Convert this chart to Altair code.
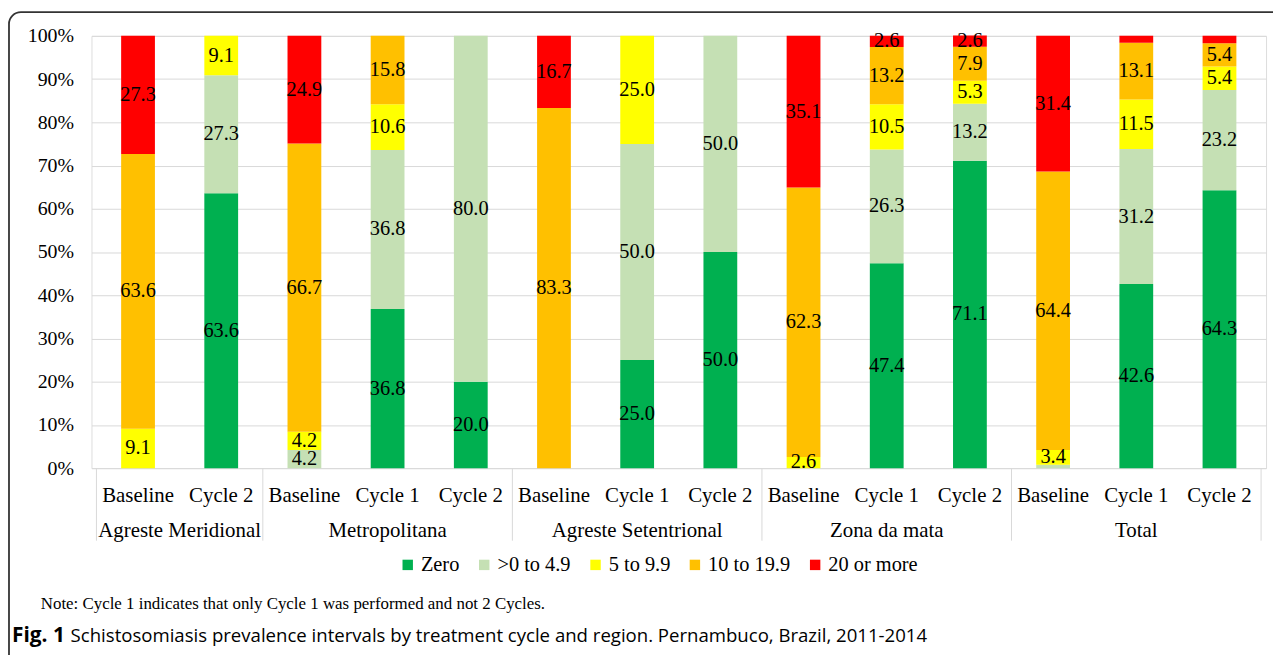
import altair as alt
import pandas as pd

# ---------------- data ----------------
groups = ["Agreste Meridional", "Metropolitana", "Agreste Setentrional", "Zona da mata", "Total"]
bar_group = ["Agreste Meridional", "Agreste Meridional",
             "Metropolitana", "Metropolitana", "Metropolitana",
             "Agreste Setentrional", "Agreste Setentrional", "Agreste Setentrional",
             "Zona da mata", "Zona da mata", "Zona da mata",
             "Total", "Total", "Total"]
bar_cycle = ["Baseline", "Cycle 2",
             "Baseline", "Cycle 1", "Cycle 2",
             "Baseline", "Cycle 1", "Cycle 2",
             "Baseline", "Cycle 1", "Cycle 2",
             "Baseline", "Cycle 1", "Cycle 2"]

series = ["Zero", ">0 to 4.9", "5 to 9.9", "10 to 19.9", "20 or more"]
colors = ["#00B050", "#C5E0B4", "#FFFF00", "#FFC000", "#FF0000"]

zero = [0, 63.6, 0, 36.8, 20.0, 0, 25.0, 50.0, 0, 47.4, 71.1, 0, 42.6, 64.3]
low = [0, 27.3, 4.2, 36.8, 80.0, 0, 50.0, 50.0, 0, 26.3, 13.2, 0.8, 31.2, 23.2]
mid = [9.1, 9.1, 4.2, 10.6, 0, 0, 25.0, 0, 2.6, 10.5, 5.3, 3.4, 11.5, 5.4]
high = [63.6, 0, 66.7, 15.8, 0, 83.3, 0, 0, 62.3, 13.2, 7.9, 64.4, 13.1, 5.4]
top = [27.3, 0, 24.9, 0, 0, 16.7, 0, 0, 35.1, 2.6, 2.6, 31.4, 1.6, 1.7]

note_text = "Note: Cycle 1 indicates that only Cycle 1 was performed and not 2 Cycles."
fig_label = "Fig. 1"
caption_text = "Schistosomiasis prevalence intervals by treatment cycle and region. Pernambuco, Brazil, 2011-2014"

# ---------------- tables ----------------
values = [zero, low, mid, high, top]
rows = []
for i in range(len(bar_cycle)):
    base = 0.0
    for s, name in enumerate(series):
        v = values[s][i]
        if v > 0:
            rows.append({
                "pos": i + 0.5, "group": bar_group[i], "cycle": bar_cycle[i],
                "series": name, "order": s, "value": v,
                "y0": base, "y1": base + v, "ymid": base + v / 2,
                "label": f"{v:.1f}" if v >= 2 else "",
            })
            base += v
bars_df = pd.DataFrame(rows)

cats_df = pd.DataFrame({"pos": [i + 0.5 for i in range(len(bar_cycle))], "cycle": bar_cycle})

grp_rows = []
bounds = [0]
for g in groups:
    idx = [i for i, bg in enumerate(bar_group) if bg == g]
    grp_rows.append({"group": g, "pos": (min(idx) + max(idx) + 1) / 2})
    bounds.append(max(idx) + 1)
grp_df = pd.DataFrame(grp_rows)
sep_df = pd.DataFrame({"pos": bounds})

W, H = 1182, 435
FONT = "Liberation Serif"
SANS = "Open Sans"

xscale = alt.Scale(domain=[0, len(bar_cycle)], nice=False, zero=False)
yscale = alt.Scale(domain=[0, 100], nice=False)

yaxis = alt.Axis(values=list(range(0, 101, 10)), labelExpr="datum.value + '%'",
                 grid=True, gridColor="#d9d9d9", domain=False, ticks=False,
                 labelFont=FONT, labelFontSize=20, labelColor="#000000",
                 labelPadding=18, title=None)

bars = alt.Chart(bars_df).mark_bar(width=34).encode(
    x=alt.X("pos:Q", scale=xscale, axis=None),
    y=alt.Y("y0:Q", scale=yscale, axis=yaxis),
    y2="y1:Q",
    color=alt.Color("series:N", scale=alt.Scale(domain=series, range=colors),
                    legend=alt.Legend(orient="none", legendX=308, legendY=522,
                                      direction="horizontal", title=None,
                                      symbolType="square", symbolSize=110,
                                      symbolStrokeWidth=0, symbolOpacity=1,
                                      labelFont=FONT, labelFontSize=20.5, labelColor="#000000",
                                      labelOffset=3, columnPadding=14)),
    order="order:Q",
)

labels = alt.Chart(bars_df).mark_text(font=FONT, fontSize=20.5, color="#000000", baseline="middle").encode(
    x=alt.X("pos:Q", scale=xscale),
    y=alt.Y("ymid:Q", scale=yscale, axis=yaxis),
    text="label:N",
)

seps = alt.Chart(sep_df).mark_rule(color="#d9d9d9", strokeWidth=1).encode(
    x=alt.X("pos:Q", scale=xscale),
    y=alt.value(H),
    y2=alt.value(H + 73),
)

cat_text = alt.Chart(cats_df).mark_text(font=FONT, fontSize=21, color="#000000", baseline="middle").encode(
    x=alt.X("pos:Q", scale=xscale),
    y=alt.value(H + 28),
    text="cycle:N",
)

grp_text = alt.Chart(grp_df).mark_text(font=FONT, fontSize=21, color="#000000", baseline="middle").encode(
    x=alt.X("pos:Q", scale=xscale),
    y=alt.value(H + 63),
    text="group:N",
)

note = alt.Chart(pd.DataFrame({"t": [note_text]})).mark_text(
    font=FONT, fontSize=17, color="#000000", align="left", baseline="middle").encode(
    x=alt.value(-51), y=alt.value(572), text="t:N")

fig = alt.Chart(pd.DataFrame({"t": [fig_label]})).mark_text(
    font=SANS, fontSize=21, fontWeight="bold",
    color="#000000", align="left", baseline="middle").encode(
    x=alt.value(-80), y=alt.value(604), text="t:N")

cap = alt.Chart(pd.DataFrame({"t": [caption_text]})).mark_text(
    font=SANS, fontSize=18.7,
    color="#000000", align="left", baseline="middle").encode(
    x=alt.value(-21), y=alt.value(604), text="t:N")

frame = alt.Chart(pd.DataFrame({"a": [0]})).mark_rect(
    fill=None, stroke="#333333", strokeWidth=1.8, cornerRadius=12).encode(
    x=alt.value(-83), x2=alt.value(1200), y=alt.value(-24), y2=alt.value(640))

chart = alt.layer(frame, bars, labels, seps, cat_text, grp_text, note, fig, cap).properties(
    width=W, height=H,
    padding={"left": 84, "top": 26, "right": 7, "bottom": 186},
    autosize=alt.AutoSizeParams(type="none"),
).configure_view(stroke=None).configure(
    background="#ffffff", font=FONT
).configure_axis(labelFont=FONT).configure_legend(labelFont=FONT)

chart.save("out.html", embed_options={"renderer": "svg", "actions": False})
